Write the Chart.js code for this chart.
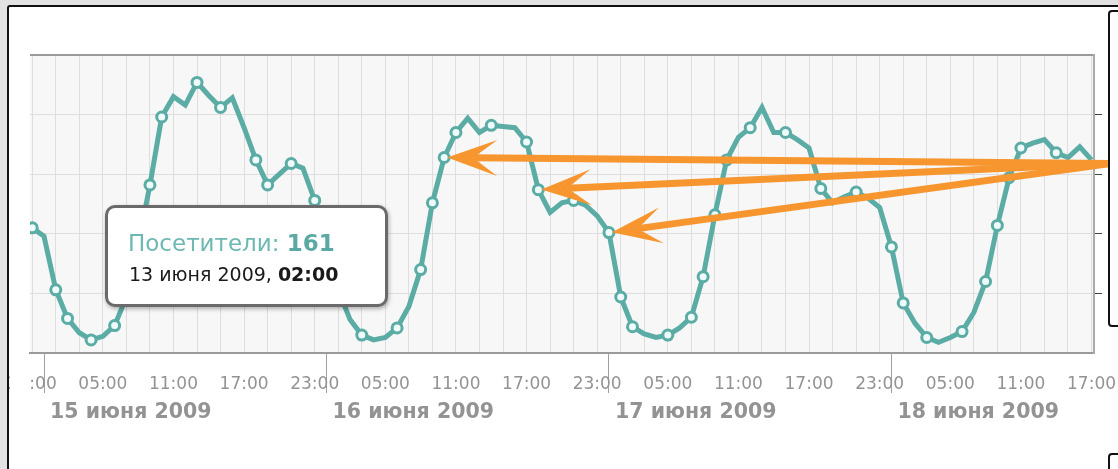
<!DOCTYPE html>
<html>
<head>
<meta charset="utf-8">
<script src="https://cdn.jsdelivr.net/npm/chart.js@4.4.1/dist/chart.umd.min.js"></script>
<style>
  html, body { margin: 0; padding: 0; }
  body { width: 1118px; height: 469px; overflow: hidden; background: #e2e2e2; position: relative; font-family: 'DejaVu Sans', sans-serif; }
  #frame { position: absolute; left: 7px; top: 5px; width: 1200px; height: 520px; background: #fff; border: 2px solid #111; border-radius: 3px; }
  #wrap { position: absolute; left: 0; top: 0; width: 1118px; height: 469px; z-index: 1; }
  #mask { position: absolute; left: 10px; top: 358px; width: 20px; height: 40px; background: #fff; z-index: 2; }
  .side { position: absolute; left: 1108px; width: 40px; background: #fff; border: 2px solid #111; border-radius: 4px; z-index: 2; }
  #tip { position: absolute; left: 105px; top: 205px; width: 283px; height: 102px; box-sizing: border-box; background: #fff;
         border: 3px solid #6a6a6a; border-radius: 10px; box-shadow: 1px 2px 4px rgba(0,0,0,.3); z-index: 2; }
  #tip .l1 { position: absolute; left: 20px; top: 24px; font-size: 23px; line-height: 1; color: #6db8b3; white-space: nowrap; }
  #tip .l1 b { color: #5aa9a3; }
  #tip .l2 { position: absolute; left: 21px; top: 57px; font-size: 19px; line-height: 1; color: #1a1a1a; white-space: nowrap; }
</style>
</head>
<body>
<div id="frame"></div>
<div id="wrap"><canvas id="c"></canvas></div>
<div id="mask"></div>
<div class="side" style="top:10px;height:313px"></div>
<div class="side" style="top:453px;height:40px"></div>
<div id="tip">
  <div class="l1"><span id="tTitle"></span> <b id="tValue"></b></div>
  <div class="l2"><span id="tDate"></span> <b id="tTime"></b></div>
</div>
<script>
// hour offsets from 15 June 2009 00:00
const hours = [
  -1, 0, 1, 2, 3, 4, 5, 6, 7, 8, 9,
  10, 11, 12, 13, 14, 15, 16, 17, 18, 19,
  20, 21, 22, 23, 24, 25, 26, 27, 28, 29,
  30, 31, 32, 33, 34, 35, 36, 37, 38, 39,
  40, 41, 42, 43, 44, 45, 46, 47, 48, 49,
  50, 51, 52, 53, 54, 55, 56, 57, 58, 59,
  60, 61, 62, 63, 64, 65, 66, 67, 68, 69,
  70, 71, 72, 73, 74, 75, 76, 77, 78, 79,
  80, 81, 82, 83, 84, 85, 86, 87, 88, 89
];
const visitors = [
  105, 98, 53, 29, 17, 11, 14, 23, 47, 91, 141,
  198, 215, 208, 227, 216, 206, 214, 189, 162, 141,
  150, 159, 155, 128, 86, 53, 28, 15, 11, 13,
  21, 39, 70, 126, 164, 185, 197, 185, 191, 190,
  189, 177, 137, 118, 126, 128, 124, 115, 101, 47,
  22, 16, 13, 15, 21, 30, 64, 116, 162, 181,
  189, 206, 185, 185, 179, 172, 138, 126, 131, 135,
  130, 122, 89, 42, 25, 13, 9, 13, 18, 34,
  60, 107, 147, 172, 176, 179, 168, 164, 173, 162
];
// hours that carry a round marker
const markerHours = [-1, 1, 2, 4, 6, 9, 10, 13, 15, 18, 19, 21, 23, 27, 30, 32, 33, 34, 35, 38, 41, 42,
  45, 48, 49, 50, 53, 55, 56, 57, 58, 60, 63, 66, 69, 72, 73, 75, 78, 80, 81, 82, 83, 86];
const dayStarts = [0, 24, 48, 72];
const dayLabels = ['15 июня 2009', '16 июня 2009', '17 июня 2009', '18 июня 2009'];

// orange callouts point from the right panel to these hours
const arrowTargets = [34, 42, 48];
const arrowOrigin = { hour: 90.6, value: 159 };

const tipTitle = 'Посетители:';
const tipValue = '161';
const tipDate = '13 июня 2009,';
const tipTime = '02:00';

document.getElementById('tTitle').textContent = tipTitle;
document.getElementById('tValue').textContent = tipValue;
document.getElementById('tDate').textContent = tipDate;
document.getElementById('tTime').textContent = tipTime;

Chart.defaults.font.family = "'DejaVu Sans', sans-serif";

const teal = '#5aaca5';
const xMin = -1.19, xMax = 89.21;

const gridHours = [];
for (let h = -1; h <= 89; h += 2) gridHours.push(h);
const xTicks = gridHours.concat(dayStarts).sort((a, b) => a - b);

const isDayStart = (v) => dayStarts.includes(v);
const hourLabel = (v) => {
  if (isDayStart(v)) return '';
  const hh = ((v % 24) + 24) % 24;
  return hh % 6 === 5 ? String(hh).padStart(2, '0') + ':00' : '';
};

const plotBg = {
  id: 'plotBg',
  beforeDraw(chart) {
    const { ctx, chartArea: a } = chart;
    ctx.save();
    ctx.fillStyle = '#f7f7f7';
    ctx.fillRect(a.left, a.top, a.right - a.left, a.bottom - a.top);
    ctx.restore();
  }
};

const arrows = {
  id: 'arrows',
  afterDraw(chart) {
    const { ctx } = chart;
    const xs = chart.scales.x, ys = chart.scales.y;
    const ox = xs.getPixelForValue(arrowOrigin.hour);
    const oy = ys.getPixelForValue(arrowOrigin.value);
    ctx.save();
    ctx.fillStyle = '#f7962f';
    ctx.strokeStyle = '#f7962f';
    ctx.lineWidth = 7;
    arrowTargets.forEach((h) => {
      const i = hours.indexOf(h);
      let tx = xs.getPixelForValue(h), ty = ys.getPixelForValue(visitors[i]);
      const len = Math.hypot(ox - tx, oy - ty);
      const ux = (ox - tx) / len, uy = (oy - ty) / len;
      tx += ux * 3; ty += uy * 3;
      const px = -uy, py = ux;
      const head = 50, half = 18, notch = 26;
      ctx.beginPath();
      ctx.moveTo(ox, oy);
      ctx.lineTo(tx + ux * notch, ty + uy * notch);
      ctx.stroke();
      ctx.beginPath();
      ctx.moveTo(tx, ty);
      ctx.lineTo(tx + ux * head + px * half, ty + uy * head + py * half);
      ctx.lineTo(tx + ux * notch, ty + uy * notch);
      ctx.lineTo(tx + ux * head - px * half, ty + uy * head - py * half);
      ctx.closePath();
      ctx.fill();
    });
    ctx.restore();
  }
};

new Chart(document.getElementById('c'), {
  type: 'line',
  data: {
    datasets: [{
      data: hours.map((h, i) => ({ x: h, y: visitors[i] })),
      borderColor: teal, borderWidth: 5, tension: 0,
      pointRadius: hours.map((h) => markerHours.includes(h) ? 5 : 0),
      pointBackgroundColor: '#effbfa', pointBorderColor: teal, pointBorderWidth: 3,
      clip: 0
    }]
  },
  options: {
    responsive: true, maintainAspectRatio: false, animation: false, events: [],
    layout: { padding: { left: 30, top: 55, right: 0, bottom: 0 } },
    plugins: { legend: { display: false }, tooltip: { enabled: false } },
    scales: {
      x: {
        type: 'linear', position: 'bottom', min: xMin, max: xMax,
        afterBuildTicks: (s) => { s.ticks = xTicks.map((v) => ({ value: v })); },
        afterFit: (s) => { s.height = 45; s.paddingLeft = 0; s.paddingRight = 0; },
        grid: {
          color: (c) => isDayStart(c.tick.value) ? 'rgba(0,0,0,0)' : '#dedede',
          tickColor: (c) => isDayStart(c.tick.value) ? '#a0a0a0' : 'rgba(0,0,0,0)',
          tickLength: 40, lineWidth: 1
        },
        border: { color: '#9a9a9a', width: 2 },
        ticks: {
          autoSkip: false, maxRotation: 0, minRotation: 0, padding: -19,
          color: '#939393', font: { size: 17 }, callback: (v) => hourLabel(v)
        }
      },
      x2: {
        type: 'linear', position: 'bottom', min: xMin, max: xMax,
        afterBuildTicks: (s) => { s.ticks = dayStarts.map((v) => ({ value: v })); },
        afterFit: (s) => { s.height = 71; s.paddingLeft = 0; s.paddingRight = 0; },
        grid: { display: false, drawTicks: false },
        border: { display: false },
        ticks: {
          autoSkip: false, maxRotation: 0, minRotation: 0, align: 'start', labelOffset: 6, padding: 2,
          color: '#939393', font: { size: 20.5, weight: 'bold' }, callback: (v, i) => dayLabels[i]
        }
      },
      y: {
        position: 'right', min: 0, max: 250,
        afterFit: (s) => { s.width = 24; },
        ticks: { stepSize: 50, display: false },
        grid: {
          color: (c) => c.tick.value === 250 ? '#9a9a9a' : '#dedede',
          lineWidth: (c) => c.tick.value === 250 ? 2 : 1,
          tickColor: (c) => (c.tick.value === 0 || c.tick.value === 250) ? 'rgba(0,0,0,0)' : '#444',
          tickLength: 8
        },
        border: { color: '#aaaaaa', width: 2 }
      }
    }
  },
  plugins: [plotBg, arrows]
});
</script>
</body>
</html>
